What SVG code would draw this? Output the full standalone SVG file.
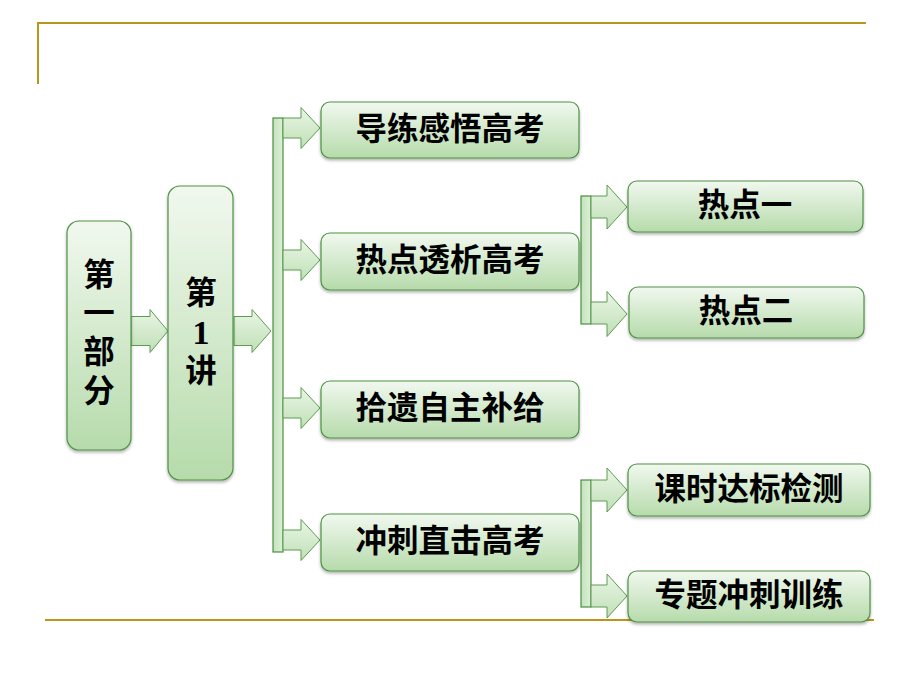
<svg xmlns="http://www.w3.org/2000/svg" width="920" height="690" viewBox="0 0 920 690">
<defs>
<linearGradient id="gBox" x1="0" y1="0" x2="0" y2="1">
<stop offset="0" stop-color="#F1F8EF"/>
<stop offset="1" stop-color="#B6DBAB"/>
</linearGradient>
<linearGradient id="gArr" x1="0" y1="0" x2="0" y2="1">
<stop offset="0" stop-color="#EAF5E6"/>
<stop offset="1" stop-color="#BFE0B5"/>
</linearGradient>
<linearGradient id="gBar" x1="0" y1="0" x2="1" y2="0">
<stop offset="0" stop-color="#C4E3BB"/>
<stop offset="1" stop-color="#DDEFD8"/>
</linearGradient>
<filter id="sh" x="-10%" y="-10%" width="120%" height="130%">
<feDropShadow dx="0" dy="2" stdDeviation="1.5" flood-color="#000" flood-opacity="0.3"/>
</filter>
</defs>
<style>
.frame{stroke:#B8961C;stroke-width:2;fill:none}
.box{fill:url(#gBox);stroke:#4E9245;stroke-width:1.2;filter:url(#sh)}
.arr{fill:url(#gArr);stroke:#5A9C50;stroke-width:1}
.bar{fill:url(#gBar);stroke:#4A8F40;stroke-width:1.2}
.t{font-family:"Liberation Serif","Noto Sans CJK SC",serif;font-weight:700;font-size:31.5px;fill:#000;text-anchor:middle;dominant-baseline:central}
</style>

<path class="frame" d="M38 84 V23 H866"/>
<path class="frame" d="M45 620 H874"/>

<g id="connectors">
<polygon class="arr" points="131,316.5 150,316.5 150,309.5 168,331 150,352.5 150,345.5 131,345.5"/>
<polygon class="arr" points="234,316.5 252,316.5 252,309.5 271,331 252,352.5 252,345.5 234,345.5"/>
<rect class="bar" x="273" y="118" width="10" height="434"/>
<polygon class="arr" points="283,118 301,118 301,107.5 320,128 301,148.5 301,138 283,138"/>
<polygon class="arr" points="283,250 301,250 301,239.5 320,260 301,280.5 301,270 283,270"/>
<polygon class="arr" points="283,398 301,398 301,387.5 320,408 301,428.5 301,418 283,418"/>
<polygon class="arr" points="283,530 301,530 301,519.5 320,540 301,560.5 301,550 283,550"/>
<rect class="bar" x="581" y="196" width="10" height="128"/>
<polygon class="arr" points="591,196 607,196 607,185 627,207 607,229 607,218 591,218"/>
<polygon class="arr" points="591,302 607,302 607,291.5 627,314 607,336.5 607,324 591,324"/>
<rect class="bar" x="581" y="480" width="10" height="127"/>
<polygon class="arr" points="591,480 607,480 607,468 627,490 607,512 607,501 591,501"/>
<polygon class="arr" points="591,585 607,585 607,574 627,596 607,618 607,607 591,607"/>
</g>

<g id="n_part">
<rect class="box" x="67" y="221" width="64" height="229" rx="12"/>
<text class="t" x="99" y="275">第</text>
<text class="t" x="99" y="313">一</text>
<text class="t" x="99" y="352">部</text>
<text class="t" x="99" y="391">分</text>
</g>
<g id="n_lecture">
<rect class="box" x="168" y="186" width="65" height="294" rx="12"/>
<text class="t" x="201" y="293">第</text>
<text class="t" x="201" y="332" style="font-size:34px">1</text>
<text class="t" x="201" y="371">讲</text>
</g>
<g id="n_a">
<rect class="box" x="321" y="102" width="258" height="56" rx="9"/>
<text class="t" x="450" y="129">导练感悟高考</text>
</g>
<g id="n_b">
<rect class="box" x="321" y="233" width="258" height="57" rx="9"/>
<text class="t" x="450" y="260">热点透析高考</text>
</g>
<g id="n_c">
<rect class="box" x="321" y="381" width="258" height="57" rx="9"/>
<text class="t" x="450" y="408">拾遗自主补给</text>
</g>
<g id="n_d">
<rect class="box" x="321" y="514" width="258" height="57" rx="9"/>
<text class="t" x="450" y="541">冲刺直击高考</text>
</g>
<g id="n_b1">
<rect class="box" x="628" y="181" width="235" height="51" rx="9"/>
<text class="t" x="745" y="205">热点一</text>
</g>
<g id="n_b2">
<rect class="box" x="629" y="287" width="235" height="51" rx="9"/>
<text class="t" x="746" y="311">热点二</text>
</g>
<g id="n_d1">
<rect class="box" x="628" y="464" width="242" height="52" rx="9"/>
<text class="t" x="749" y="489">课时达标检测</text>
</g>
<g id="n_d2">
<rect class="box" x="628" y="571" width="242" height="51" rx="9"/>
<text class="t" x="749" y="595">专题冲刺训练</text>
</g>
</svg>
